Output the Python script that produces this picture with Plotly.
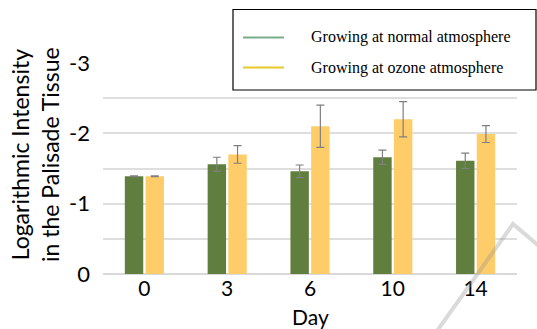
import plotly.graph_objects as go

days = ["0", "3", "6", "10", "14"]
normal_vals = [-1.39, -1.56, -1.46, -1.66, -1.61]
normal_err = [0.005, 0.10, 0.09, 0.10, 0.11]
ozone_vals = [-1.39, -1.70, -2.10, -2.20, -1.99]
ozone_err = [0.005, 0.125, 0.30, 0.25, 0.12]
series_names = ["Growing at normal atmosphere", "Growing at ozone atmosphere"]
y_ticks = [0, -1, -2, -3]

W, H = 537, 329
L, R, T, B = 103, 20, 63, 55
PW, PH = W - L - R, H - T - B


def px(x):
    return (x - L) / PW


def py(y):
    return (H - B - y) / PH


GREEN = "#607f3e"
YELLOW = "#fecc69"
ERR = "#7f7f7f"

fig = go.Figure()
fig.add_trace(go.Bar(
    x=days, y=normal_vals, name=series_names[0], marker_color=GREEN,
    marker_line_width=0, showlegend=False,
    error_y=dict(type="data", array=normal_err, color=ERR, thickness=1.2, width=4)))
fig.add_trace(go.Bar(
    x=days, y=ozone_vals, name=series_names[1], marker_color=YELLOW,
    marker_line_width=0, showlegend=False,
    error_y=dict(type="data", array=ozone_err, color=ERR, thickness=1.2, width=4)))

shapes = []
annotations = []
# legend box drawn manually
shapes.append(dict(type="rect", xref="paper", yref="paper",
                   x0=px(233), x1=px(536), y0=py(90), y1=py(9.5),
                   line=dict(color="black", width=1.2), fillcolor="white", layer="above"))
leg_colors = ["#7aab8a", "#e8c92c"]
leg_y = [37.5, 67.5]
for name, c, yy in zip(series_names, leg_colors, leg_y):
    shapes.append(dict(type="line", xref="paper", yref="paper",
                       x0=px(243), x1=px(284), y0=py(yy), y1=py(yy),
                       line=dict(color=c, width=2), layer="above"))
    annotations.append(dict(xref="paper", yref="paper", x=px(309), y=py(yy),
                            xanchor="left", yanchor="middle", showarrow=False,
                            text=name, font=dict(family="Liberation Serif", size=16, color="black")))

# watermark chevron
shapes.append(dict(type="path", xref="paper", yref="paper",
                   path=f"M {px(437)},{py(331)} L {px(513)},{py(224)} L {px(540)},{py(247)}",
                   line=dict(color="rgba(150,150,150,0.35)", width=4), layer="above"))

annotations.append(dict(xref="paper", yref="paper", x=px(35), y=py(155),
                        text="Logarithmic Intensity<br>in the Palisade Tissue",
                        textangle=-90, showarrow=False, xanchor="center", yanchor="middle",
                        font=dict(family="Lato", size=23, color="black")))
annotations.append(dict(xref="paper", yref="paper", x=0.5, y=py(316),
                        text="Day", showarrow=False, xanchor="center", yanchor="middle",
                        font=dict(family="Lato", size=21, color="black")))

fig.update_layout(
    width=W, height=H,
    margin=dict(l=L, r=R, t=T, b=B),
    paper_bgcolor="white", plot_bgcolor="white",
    barmode="group", bargap=0.5, bargroupgap=0.11,
    shapes=shapes, annotations=annotations,
    showlegend=False,
    xaxis=dict(type="category", showgrid=False, ticks="", showline=False,
               tickfont=dict(family="Lato", size=21, color="black")),
    yaxis=dict(range=[0, -3], tickvals=y_ticks, ticktext=[str(v) for v in y_ticks],
               showgrid=True, gridcolor="#dedede", gridwidth=1.5,
               zeroline=True, zerolinecolor="#d9d9d9", zerolinewidth=1.5,
               minor=dict(dtick=0.5, showgrid=True, gridcolor="#dedede", gridwidth=1.5),
               ticks="", ticklabelstandoff=12,
               tickfont=dict(family="Lato", size=22, color="black")),
)

fig.write_html("out.html", config={"displayModeBar": False},
               post_script="document.body.style.margin='0';document.body.style.overflow='hidden';")
